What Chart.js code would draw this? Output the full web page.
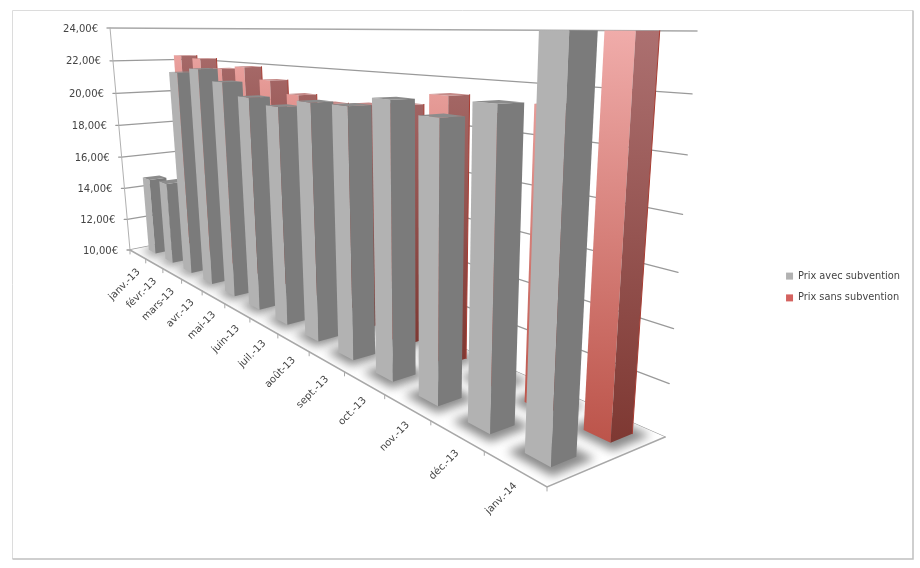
<!DOCTYPE html>
<html><head><meta charset="utf-8">
<style>html,body{margin:0;padding:0;background:#fff}#w{width:920px;height:568px}</style>
<script src="https://cdn.jsdelivr.net/npm/chart.js@4"></script>
</head><body><div id="w"><canvas id="c"></canvas></div>
<script>
const categories = ['janv.-13','févr.-13','mars-13','avr.-13','mai-13','juin-13','juil.-13','août-13','sept.-13','oct.-13','nov.-13','déc.-13','janv.-14'];
const prixAvec = [14.7,14.85,21.55,21.85,21.3,20.7,20.45,20.85,20.9,21.35,20.9,21.6,24];
const prixSans = [22.3,22.2,21.7,21.9,21.3,20.7,20.45,20.6,20.8,21.4,20.8,21.4,24];
const seriesNames = ['Prix avec subvention','Prix sans subvention'];
const yMin = 10, yMax = 24, yStep = 2;

// --- projection of the floor / height space onto the picture
const L0=[130,250],L1=[547,487],R1=[665,437],R0=[205,235],VP=[423,3506];
function homography(p0,p1,p2,p3){ // unit square (0,0),(1,0),(1,1),(0,1) -> quad
  const dx1=p1[0]-p2[0],dx2=p3[0]-p2[0],sx=p0[0]-p1[0]+p2[0]-p3[0];
  const dy1=p1[1]-p2[1],dy2=p3[1]-p2[1],sy=p0[1]-p1[1]+p2[1]-p3[1];
  const d=dx1*dy2-dx2*dy1;
  const g=(sx*dy2-dx2*sy)/d,h=(dx1*sy-sx*dy1)/d;
  return [p1[0]-p0[0]+g*p1[0],p3[0]-p0[0]+h*p3[0],p0[0],p1[1]-p0[1]+g*p1[1],p3[1]-p0[1]+h*p3[1],p0[1],g,h];
}
const H=homography(L0,L1,R1,R0);
const N=categories.length;
function floorPt(u,v){const a=u/N,b=v,w=H[6]*a+H[7]*b+1;return [(H[0]*a+H[1]*b+H[2])/w,(H[3]*a+H[4]*b+H[5])/w];}
function P(u,v,t){
  const b=floorPt(u,v),f=(b[0]-130)/535,T=28+3*f,k=0.96-0.05*f;
  const y=(b[1]*(1-t)+T*t*k)/((1-t)+t*k);
  const x=b[0]+(y-b[1])*(VP[0]-b[0])/(VP[1]-b[1]);
  return [x,y];
}
function poly(ctx,pts){ctx.beginPath();pts.forEach((p,i)=>i?ctx.lineTo(p[0],p[1]):ctx.moveTo(p[0],p[1]));ctx.closePath();}
const mix=(a,b,t)=>'rgb('+a.map((c,i)=>Math.round(c+(b[i]-c)*t)).join(',')+')';
function vGrad(ctx,a,b,c0,c1){const g=ctx.createLinearGradient(a[0],a[1],b[0],b[1]);g.addColorStop(0,c0);g.addColorStop(1,c1);return g;}

const U0=0.31,U1=0.72;
const LANES=[[0.18,0.39],[0.685,0.88]];
const STYLE=[
 {lb:[178,178,178],lt:[178,178,178],db:[123,123,123],dt:[123,123,123],cap:'#8c8c8c',edge:null},
 {lb:[188,84,74],lt:[240,172,170],db:[126,56,50],dt:[172,112,112],cap:'#c58a88',edge:'#a83c32'}
];

const scene={
 id:'scene',
 beforeDraw(chart){
  const ctx=chart.ctx;
  ctx.save();ctx.fillStyle='#fff';ctx.fillRect(0,0,920,568);
  ctx.lineWidth=1;ctx.strokeStyle='#dcdcdc';
  ctx.beginPath();ctx.moveTo(12.5,559);ctx.lineTo(12.5,10.5);ctx.lineTo(913,10.5);ctx.stroke();
  ctx.lineWidth=1.5;ctx.strokeStyle='#c0c0c0';
  ctx.beginPath();ctx.moveTo(913,10.5);ctx.lineTo(913,559);ctx.lineTo(12.5,559);ctx.stroke();
  ctx.restore();
 },
 beforeDatasetsDraw(chart){
  const ctx=chart.ctx,ys=chart.scales.y,ticks=ys.ticks;
  const dec=v=>Math.max(0,Math.min(1,(v-ys.min)/(ys.max-ys.min)));
  ctx.save();
  // walls
  ctx.lineCap='round';
  ticks.forEach(tk=>{
    const t=dec(tk.value),a=P(0,0,t),b=P(0,1,t),c=P(N,1,t);
    ctx.strokeStyle=t===1?'#a8a8a8':'#9a9a9a';ctx.lineWidth=t===1?1.5:1.3;
    ctx.beginPath();ctx.moveTo(a[0]-3,a[1]);ctx.lineTo(a[0],a[1]);ctx.lineTo(b[0],b[1]);ctx.lineTo(c[0],c[1]);ctx.stroke();
  });
  ctx.strokeStyle='#b0b0b0';ctx.lineWidth=1;
  let a=P(0,0,0),b=P(0,0,1);ctx.beginPath();ctx.moveTo(a[0],a[1]);ctx.lineTo(b[0],b[1]);ctx.stroke();
  // floor
  poly(ctx,[L0,L1,R1,R0]);ctx.fillStyle='#fff';ctx.fill();
  ctx.save();poly(ctx,[L0,L1,R1,R0]);ctx.clip();
  ctx.filter='blur(5px)';ctx.fillStyle='#8a8a8a';
  [1,0].forEach(s=>{const L=LANES[s];
    for(let i=0;i<N;i++){
      const e=0.15,u0=i+U0-e,u1=i+U1+e,v0=L[0]-0.07,v1=L[1]+0.07;
      poly(ctx,[floorPt(u0,v0),floorPt(u1,v0),floorPt(u1,v1),floorPt(u0,v1)]);ctx.fill();
    }});
  ctx.filter='none';ctx.restore();
  ctx.strokeStyle='#a8a8a8';ctx.lineWidth=1.5;
  ctx.beginPath();ctx.moveTo(L0[0],L0[1]);ctx.lineTo(L1[0],L1[1]);ctx.lineTo(R1[0],R1[1]);ctx.stroke();
  ctx.lineWidth=1;
  for(let i=0;i<=N;i++){const p=floorPt(i,0);ctx.beginPath();ctx.moveTo(p[0],p[1]);ctx.lineTo(p[0],p[1]+4);ctx.stroke();}
  // bars: far series first, back to front
  [1,0].forEach(s=>{
    const meta=chart.getDatasetMeta(s),L=LANES[s],S=STYLE[s];
    meta.data.forEach((el,i)=>{
      const t=dec(ys.getValueForPixel(el.y));
      const u0=i+U0,u1=i+U1;
      const a0=P(u0,L[0],0),a1=P(u1,L[0],0),b1=P(u1,L[1],0);
      const c0=P(u0,L[0],t),c1=P(u1,L[0],t),d1=P(u1,L[1],t),d0=P(u0,L[1],t);
      poly(ctx,[a0,a1,c1,c0]);ctx.fillStyle=vGrad(ctx,a1,c1,mix(S.lb,S.lt,0),mix(S.lb,S.lt,t));ctx.fill();
      poly(ctx,[a1,b1,d1,c1]);ctx.fillStyle=vGrad(ctx,a1,c1,mix(S.db,S.dt,0),mix(S.db,S.dt,t));ctx.fill();
      poly(ctx,[c0,c1,d1,d0]);ctx.fillStyle=S.cap;ctx.fill();
      if(S.edge){ctx.strokeStyle=S.edge;ctx.lineWidth=1;ctx.beginPath();ctx.moveTo(b1[0],b1[1]);ctx.lineTo(d1[0],d1[1]);ctx.stroke();}
    });
  });
  // texts
  ctx.fillStyle='#444';ctx.font='10px "DejaVu Sans"';ctx.textBaseline='middle';ctx.textAlign='right';
  ticks.forEach(tk=>{const p=P(0,0,dec(tk.value));ctx.fillText(tk.label,p[0]-12,p[1]+1);});
  categories.forEach((c,i)=>{
    const p=floorPt(i+0.5,0);
    ctx.save();ctx.translate(p[0]+1,p[1]+16);ctx.rotate(-Math.PI/4);ctx.fillText(c,0,0);ctx.restore();
  });
  ctx.restore();
  return false;
 }
};

new Chart(document.getElementById('c'),{
 type:'bar',
 data:{labels:categories,datasets:[
  {label:seriesNames[0],data:prixAvec,backgroundColor:'#b2b2b2'},
  {label:seriesNames[1],data:prixSans,backgroundColor:'#d4625f'}]},
 options:{
  responsive:true,maintainAspectRatio:false,animation:false,
  layout:{padding:{top:26,bottom:20,left:20,right:10}},
  scales:{
   x:{display:false},
   y:{display:false,min:yMin,max:yMax,ticks:{stepSize:yStep,callback:v=>v.toFixed(2).replace('.',',')+'€'}}
  },
  plugins:{
   tooltip:{enabled:false},
   legend:{position:'right',labels:{boxWidth:7,boxHeight:7,padding:12,color:'#444',font:{family:'"DejaVu Sans"',size:9.8}}}
  }
 },
 plugins:[scene]
});
</script></body></html>
